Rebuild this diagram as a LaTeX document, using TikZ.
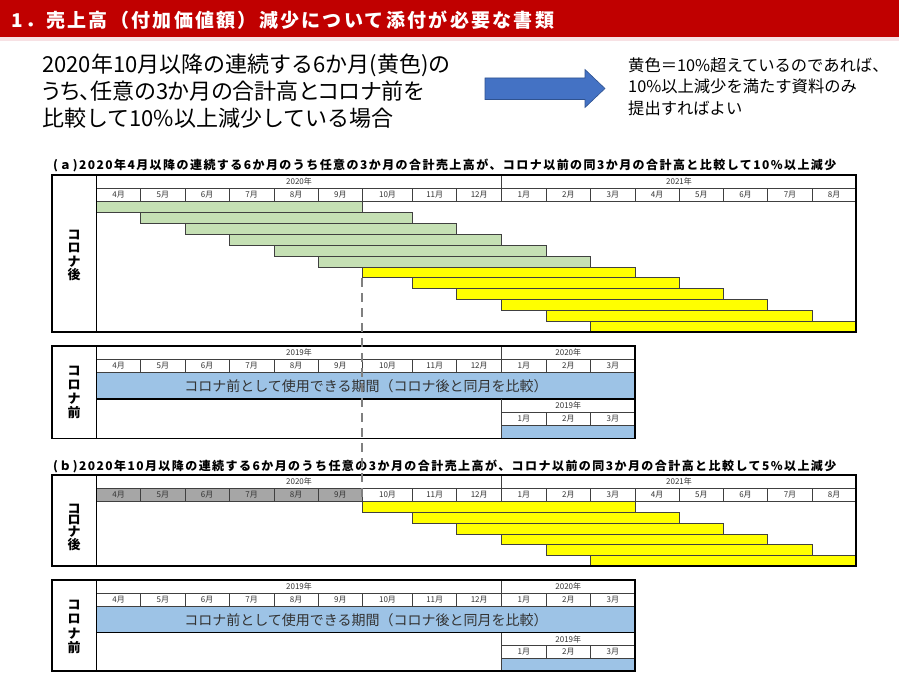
\documentclass[tikz,border=0pt]{standalone}
\usepackage{fontspec}
\setmainfont{Noto Sans CJK JP}
\newfontfamily\hdfont[LetterSpace=12]{Noto Sans CJK JP}
\newfontfamily\ttlfont[LetterSpace=12]{Noto Sans CJK JP}
\newfontfamily\paltfont[RawFeature=+palt]{Noto Sans CJK JP}
\definecolor{hdred}{HTML}{C00000}
\definecolor{hdpink}{HTML}{F7E1E4}
\definecolor{barg}{HTML}{C5E0B4}
\definecolor{bary}{HTML}{FFFF00}
\definecolor{blueb}{HTML}{9DC3E6}
\definecolor{grayc}{HTML}{A6A6A6}
\definecolor{arrowb}{HTML}{4472C4}
\definecolor{arrowl}{HTML}{2F528F}
\definecolor{gridc}{HTML}{404040}
\definecolor{txtc}{HTML}{333333}
\definecolor{dashc}{HTML}{808080}
\def\xs{{96.7,140.7,185,229.3,274,318.3,362.3,412.7,456.7,501.7,546,590.7,635,679.3,723.3,767.7,812.3,856}}
\tikzset{
  grid/.style={draw=gridc, line width=0.6pt},
  outer/.style={draw=black, line width=1.6pt},
  divider/.style={draw=black, line width=1.3pt},
  mon/.style={font=\fontsize{8}{9}\selectfont, text=txtc, inner sep=0pt},
  yr/.style={font=\fontsize{8}{9}\selectfont, text=txtc, inner sep=0pt},
  bargreen/.style={fill=barg, draw=gridc, line width=0.6pt},
  baryellow/.style={fill=bary, draw=gridc, line width=0.6pt},
  vlabel/.style={font=\bfseries\fontsize{13}{#1}\selectfont, align=center, inner sep=0pt},
  bandtext/.style={font=\fontsize{14}{16}\selectfont, text=txtc, inner sep=0pt},
  ttl/.style={font=\ttlfont\bfseries\fontsize{12}{14}\selectfont, anchor=base west, inner sep=0pt},
  bigtxt/.style={font=\fontsize{22}{27}\selectfont, anchor=base west, inner sep=0pt},
  notetxt/.style={font=\fontsize{16.3}{21}\selectfont, anchor=base west, inner sep=0pt},
  dashline/.style={draw=dashc, line width=2.2pt, dash pattern=on 9pt off 6pt},
}
\newcommand\monthcells[4]{% #1 ytop, #2 ybot, #3 name prefix, #4 list
  \foreach \m [count=\j from 0] in {#4} {
    \pgfmathsetmacro\xa{\xs[\j]}
    \pgfmathsetmacro\xb{\xs[\j+1]}
    \node[mon] (#3-\j) at ({(\xa+\xb)/2},{(#1+#2)/2}) {\m};
    \draw[grid] (\xb,#1) -- (\xb,#2);
  }}
\begin{document}
\begin{tikzpicture}[x=1pt,y=-1pt]
\useasboundingbox (0,0) rectangle (899,687);
\fill[white] (0,0) rectangle (899,687);
% header
\fill[hdred] (0,0) rectangle (899,37);
\fill[hdpink] (0,37) rectangle (899,41.5);
\node[anchor=base west, inner sep=0pt, text=white, font=\hdfont\bfseries\fontsize{19}{22}\selectfont] (title) at (11,27.5) {1．売上高（付加価値額）減少について添付が必要な書類};
% main text
\node[bigtxt] (main1) at (42,72.5) {2020年10月以降の連続する6か月(黄色)の};
\node[bigtxt, font=\paltfont\fontsize{22}{27}\selectfont] (main2) at (42,99.3) {うち、任意の3か月の合計高とコロナ前を};
\node[bigtxt] (main3) at (42,126.3) {比較して10\%以上減少している場合};
% arrow
\draw[fill=arrowb, draw=arrowl, line width=0.6pt] (485,78) -- (585,78) -- (585,69.5) -- (605,88.5) -- (585,107.5) -- (585,99.5) -- (485,99.5) -- cycle;
\node[notetxt] (note1) at (628,71.5) {黄色＝10\%超えているのであれば、};
\node[notetxt] (note2) at (628,93) {10\%以上減少を満たす資料のみ};
\node[notetxt] (note3) at (628,114.5) {提出すればよい};

% ===== table (a)
\node[ttl] (ttla) at (53,170) {(ａ)2020年4月以降の連続する6か月のうち任意の3か月の合計売上高が、コロナ以前の同3か月の合計高と比較して10\%以上減少};
\foreach \k in {0,...,11} {
  \pgfmathsetmacro\xa{\xs[\k]}
  \pgfmathsetmacro\xb{\xs[\k+6]}
  \pgfmathsetmacro\ya{201.7+\k*10.86}
  \pgfmathsetmacro\yb{201.7+(\k+1)*10.86}
  \ifnum\k<6
    \draw[bargreen] (\xa,\ya) rectangle (\xb,\yb);
  \else
    \draw[baryellow] (\xa,\ya) rectangle (\xb,\yb);
  \fi
}
\draw[grid] (96.7,188.3) -- (856,188.3);
\draw[grid] (96.7,201.7) -- (856,201.7);
\draw[grid] (501.7,175) -- (501.7,188.3);
\monthcells{188.3}{201.7}{ma}{4月,5月,6月,7月,8月,9月,10月,11月,12月,1月,2月,3月,4月,5月,6月,7月,8月}
\node[yr] (ya1) at (299,181.7) {2020年};
\node[yr] (ya2) at (679,181.7) {2021年};
\draw[divider] (96.7,175) -- (96.7,332);
\draw[outer] (51.7,175) rectangle (856,332);
\node[vlabel=13.3] (la) at (74,255.3) {コ\\ロ\\ナ\\後};

% ===== table (pre 1)
\fill[blueb] (96.7,372.3) rectangle (635,399);
\fill[blueb] (501.7,425.7) rectangle (635,438.3);
\draw[grid] (96.7,359) -- (635,359);
\draw[grid] (96.7,372.3) -- (635,372.3);
\draw[grid] (501.7,345.7) -- (501.7,359);
\monthcells{359}{372.3}{mc}{4月,5月,6月,7月,8月,9月,10月,11月,12月,1月,2月,3月}
\node[yr] (yc1) at (299,352.3) {2019年};
\node[yr] (yc2) at (568.3,352.3) {2020年};
\draw[divider] (96.7,399) -- (635,399);
\node[bandtext] (bc) at (366,385.8) {コロナ前として使用できる期間（コロナ後と同月を比較）};
\draw[grid] (501.7,399) -- (501.7,438.3);
\draw[grid] (501.7,412.3) -- (635,412.3);
\draw[grid] (501.7,425.7) -- (635,425.7);
\draw[grid] (546,412.3) -- (546,425.7);
\draw[grid] (590.7,412.3) -- (590.7,425.7);
\node[yr] (yc3) at (568.3,405.7) {2019年};
\node[mon] (sc1) at (523.8,419) {1月};
\node[mon] (sc2) at (568.3,419) {2月};
\node[mon] (sc3) at (612.8,419) {3月};
\draw[divider] (96.7,345.7) -- (96.7,438.3);
\draw[outer] (51.7,345.7) rectangle (635,438.3);
\node[vlabel=13.8] (lc) at (74,392.3) {コ\\ロ\\ナ\\前};

% ===== table (b)
\node[ttl] (ttlb) at (53,470) {(ｂ)2020年10月以降の連続する6か月のうち任意の3か月の合計売上高が、コロナ以前の同3か月の合計高と比較して5\%以上減少};
\fill[grayc] (96.7,488.3) rectangle (362.3,501.7);
\foreach \k in {0,...,5} {
  \pgfmathsetmacro\xa{\xs[\k+6]}
  \pgfmathsetmacro\xb{\xs[\k+12]}
  \pgfmathsetmacro\ya{501.7+\k*10.72}
  \pgfmathsetmacro\yb{501.7+(\k+1)*10.72}
  \draw[baryellow] (\xa,\ya) rectangle (\xb,\yb);
}
\draw[grid] (96.7,488.3) -- (856,488.3);
\draw[grid] (96.7,501.7) -- (856,501.7);
\draw[grid] (501.7,475) -- (501.7,488.3);
\monthcells{488.3}{501.7}{mb}{4月,5月,6月,7月,8月,9月,10月,11月,12月,1月,2月,3月,4月,5月,6月,7月,8月}
\node[yr] (yb1) at (299,481.7) {2020年};
\node[yr] (yb2) at (679,481.7) {2021年};
\draw[divider] (96.7,475) -- (96.7,566);
\draw[outer] (51.7,475) rectangle (856,566);
\node[vlabel=11.5] (lb) at (74,527) {コ\\ロ\\ナ\\後};

% ===== table (pre 2)
\fill[blueb] (96.7,606.7) rectangle (635,632.7);
\fill[blueb] (501.7,658.5) rectangle (635,671);
\draw[grid] (96.7,593.3) -- (635,593.3);
\draw[grid] (96.7,606.7) -- (635,606.7);
\draw[grid] (501.7,580) -- (501.7,593.3);
\monthcells{593.3}{606.7}{md}{4月,5月,6月,7月,8月,9月,10月,11月,12月,1月,2月,3月}
\node[yr] (yd1) at (299,586.7) {2019年};
\node[yr] (yd2) at (568.3,586.7) {2020年};
\draw[divider] (96.7,632.7) -- (635,632.7);
\node[bandtext] (bd) at (366,619.7) {コロナ前として使用できる期間（コロナ後と同月を比較）};
\draw[grid] (501.7,632.7) -- (501.7,671);
\draw[grid] (501.7,645.5) -- (635,645.5);
\draw[grid] (501.7,658.5) -- (635,658.5);
\draw[grid] (546,645.5) -- (546,658.5);
\draw[grid] (590.7,645.5) -- (590.7,658.5);
\node[yr] (yd3) at (568.3,639.1) {2019年};
\node[mon] (sd1) at (523.8,652) {1月};
\node[mon] (sd2) at (568.3,652) {2月};
\node[mon] (sd3) at (612.8,652) {3月};
\draw[divider] (96.7,580) -- (96.7,671);
\draw[outer] (51.7,580) rectangle (635,671);
\node[vlabel=14.3] (ld) at (74,627) {コ\\ロ\\ナ\\前};

% dashed guide
\coordinate (dtop) at (362.3,278);
\coordinate (dbot) at (362.3,497);
\draw[dashline] (dtop) -- (dbot);
\end{tikzpicture}
\end{document}
